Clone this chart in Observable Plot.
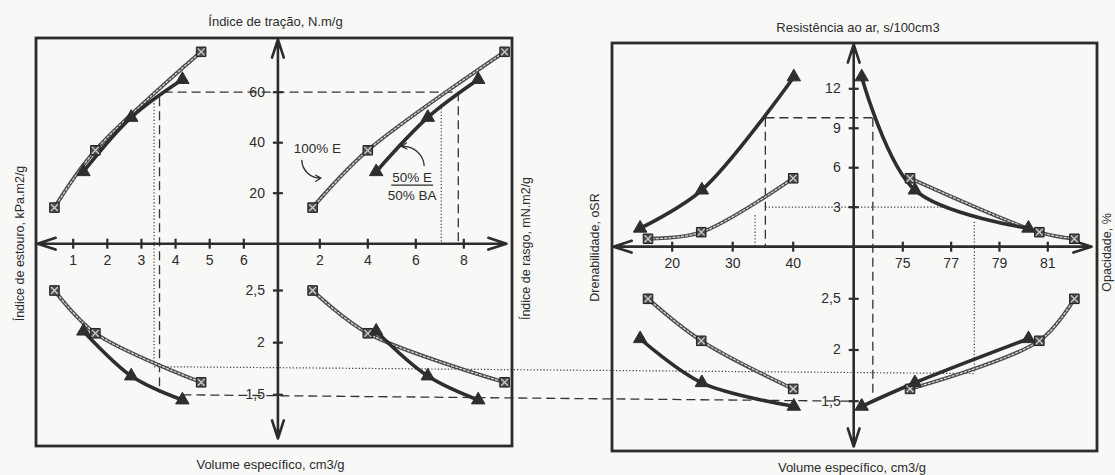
<!DOCTYPE html>
<html>
<head>
<meta charset="utf-8">
<script src="https://cdn.jsdelivr.net/npm/d3@7"></script>
<script src="https://cdn.jsdelivr.net/npm/@observablehq/plot@0.6"></script>
<style>
  html, body { margin: 0; padding: 0; background: #f8f8f7; }
  #chart { width: 1115px; height: 475px; }
</style>
</head>
<body>
<div id="chart"></div>
<script>
// ---------------- DATA ----------------
// Series 1: 100% E  (hatched line, square markers) — three refining levels
const bulkE     = [2.50, 2.09, 1.62];   // Volume específico, cm3/g
const tensileE  = [14.3, 37.0, 76.0];   // Índice de tração, N.m/g
const burstE    = [0.45, 1.65, 4.75];   // Índice de estouro, kPa.m2/g
const tearE     = [1.70, 4.00, 9.70];   // Índice de rasgo, mN.m2/g
const drainE    = [16.0, 24.8, 40.0];   // Drenabilidade, oSR
const airE      = [0.60, 1.10, 5.20];   // Resistência ao ar, s/100cm3
const opacityE  = [82.1, 80.65, 75.3];  // Opacidade, %

// Series 2: 50% E / 50% BA  (thick line, triangle markers)
const bulkB     = [2.11, 1.68, 1.45];
const tensileB  = [28.5, 50.0, 65.0];
const burstB    = [1.30, 2.70, 4.20];
const tearB     = [4.35, 6.50, 8.60];
const drainB    = [14.7, 24.9, 40.1];
const airB      = [1.40, 4.30, 12.9];
const opacityB  = [80.2, 75.5, 73.3];

// Tick values
const burstTicks   = [1, 2, 3, 4, 5, 6];
const tearTicks    = [2, 4, 6, 8];
const tensileTicks = [20, 40, 60];
const bulkTicks    = [2.5, 2, 1.5];
const drainTicks   = [20, 30, 40];
const opacityTicks = [75, 77, 79, 81];
const airTicks     = [12, 9, 6, 3];

// Reading guides (value pairs on the quadrant axes)
const dashedGuides = [
  [["burstL", 3.65, "tensileL", 60],  ["tearL", 7.77, "tensileL", 60]],
  [["burstL", 3.53, "tensileL", 58],  ["burstL", 3.53, "bulkL", 1.52]],
  [["tearL", 7.77, "tensileL", 60],   ["tearL", 7.77, "tensileL", 0]],
  [["burstL", 4.2, "bulkL", 1.5],     ["drainR", 50, "bulkR", 1.5]],
  [["drainR", 35.4, "airR", 9.8],     ["opacityR", 73.76, "airR", 9.8]],
  [["drainR", 35.4, "airR", 9.8],     ["drainR", 35.4, "airR", 0]],
  [["opacityR", 73.76, "airR", 9.8],  ["opacityR", 73.76, "bulkR", 1.56]]
];
const dottedGuides = [
  [["burstL", 3.37, "tensileL", 57],  ["burstL", 3.37, "bulkL", 1.77]],
  [["tearL", 7.06, "tensileL", 55],   ["tearL", 7.06, "tensileL", 0]],
  [["burstL", 3.37, "bulkL", 1.77],   ["opacityR", 77.96, "bulkR", 1.77]],
  [["drainR", 35.4, "airR", 3],       ["opacityR", 76.6, "airR", 3]],
  [["drainR", 33.7, "airR", 2.4],     ["drainR", 33.7, "airR", 0]],
  [["opacityR", 77.96, "airR", 1.9],  ["opacityR", 77.96, "bulkR", 1.77]]
];

// ---------------- LAYOUT: quadrant axis calibration ----------------
const W = 1115, H = 475;
const S = {
  burstL:   d3.scaleLinear([1, 6], [72.7, 243.3]),
  tearL:    d3.scaleLinear([2, 8], [319.3, 463.3]),
  tensileL: d3.scaleLinear([20, 60], [192.7, 91.7]),
  bulkL:    d3.scaleLinear([1.5, 2.5], [394.3, 290]),
  drainR:   d3.scaleLinear([20, 40], [671.7, 792.7]),
  opacityR: d3.scaleLinear([75, 81], [902.3, 1047.3]),
  airR:     d3.scaleLinear([3, 12], [206.7, 88.3]),
  bulkR:    d3.scaleLinear([1.5, 2.5], [400.7, 298.3])
};
const panels = [
  {x0: 36, x1: 512, y0: 38, y1: 446, cx: S.burstL(7), cy: S.tensileL(0),
   top: 39, bottom: 438, left: 37, right: 506},
  {x0: 612, x1: 1097, y0: 43, y1: 451, cx: S.drainR(50), cy: S.airR(0),
   top: 44, bottom: 446, left: 613, right: 1091}
];
const [PL, PR] = panels;

const series = [
  {name: "E", burst: burstE, tear: tearE, tensile: tensileE, bulk: bulkE, drain: drainE, air: airE, opacity: opacityE},
  {name: "B", burst: burstB, tear: tearB, tensile: tensileB, bulk: bulkB, drain: drainB, air: airB, opacity: opacityB}
];
const quads = [
  {xs: "burstL",   ys: "tensileL", xk: "burst",   yk: "tensile"},
  {xs: "tearL",    ys: "tensileL", xk: "tear",    yk: "tensile"},
  {xs: "burstL",   ys: "bulkL",    xk: "burst",   yk: "bulk"},
  {xs: "tearL",    ys: "bulkL",    xk: "tear",    yk: "bulk"},
  {xs: "drainR",   ys: "airR",     xk: "drain",   yk: "air"},
  {xs: "opacityR", ys: "airR",     xk: "opacity", yk: "air"},
  {xs: "drainR",   ys: "bulkR",    xk: "drain",   yk: "bulk"},
  {xs: "opacityR", ys: "bulkR",    xk: "opacity", yk: "bulk"}
];
function rowsFor(s) {
  const out = [];
  quads.forEach((q, qi) => {
    s[q.xk].forEach((v, i) => {
      out.push({q: qi, x: S[q.xs](v), y: S[q.ys](s[q.yk][i])});
    });
  });
  return out;
}
const rowsE = rowsFor(series[0]);
const rowsB = rowsFor(series[1]);

const seg = g => ({x1: S[g[0][0]](g[0][1]), y1: S[g[0][2]](g[0][3]),
                   x2: S[g[1][0]](g[1][1]), y2: S[g[1][2]](g[1][3])});
const dashedSegs = dashedGuides.map(seg);
const dottedSegs = dottedGuides.map(seg);

const axisArrows = panels.flatMap(p => [
  {x1: p.cx, y1: p.cy, x2: p.cx, y2: p.top},
  {x1: p.cx, y1: p.cy, x2: p.cx, y2: p.bottom},
  {x1: p.cx, y1: p.cy, x2: p.left, y2: p.cy},
  {x1: p.cx, y1: p.cy, x2: p.right, y2: p.cy}
]);

const fmt = v => String(v).replace(".", ",");
const hTickData = [
  ...burstTicks.map(v => ({x: S.burstL(v), y: PL.cy, label: fmt(v)})),
  ...tearTicks.map(v => ({x: S.tearL(v), y: PL.cy, label: fmt(v)})),
  ...drainTicks.map(v => ({x: S.drainR(v), y: PR.cy, label: fmt(v)})),
  ...opacityTicks.map(v => ({x: S.opacityR(v), y: PR.cy, label: fmt(v)}))
];
const vTickData = [
  ...tensileTicks.map(v => ({x: PL.cx, y: S.tensileL(v), label: fmt(v)})),
  ...bulkTicks.map(v => ({x: PL.cx, y: S.bulkL(v), label: fmt(v)})),
  ...airTicks.map(v => ({x: PR.cx, y: S.airR(v), label: fmt(v)})),
  ...bulkTicks.map(v => ({x: PR.cx, y: S.bulkR(v), label: fmt(v)}))
];

const ink = "#2c2c2c";
const font = "'Liberation Sans', Arial, sans-serif";

const titles = [
  {x: (PL.x0 + PL.x1) / 2 + 1, y: 21, text: "Índice de tração, N.m/g", rotate: 0},
  {x: (PL.x0 + PL.x1) / 2 - 4, y: 464, text: "Volume específico, cm3/g", rotate: 0},
  {x: 19, y: 243, text: "Índice de estouro, kPa.m2/g", rotate: -90},
  {x: 525, y: 248, text: "Índice de rasgo, mN.m2/g", rotate: -90},
  {x: (PR.x0 + PR.x1) / 2 + 3, y: 27, text: "Resistência ao ar, s/100cm3", rotate: 0},
  {x: (PR.x0 + PR.x1) / 2 - 3, y: 467, text: "Volume específico, cm3/g", rotate: 0},
  {x: 594, y: 247, text: "Drenabilidade, oSR", rotate: -90},
  {x: 1106, y: 252, text: "Opacidade, %", rotate: -90}
];

const notes = [
  {x: S.tearL(1.9), y: S.tensileL(37.5), text: "100% E"},
  {x: S.tearL(5.85), y: S.tensileL(26), text: "50% E"},
  {x: S.tearL(5.85), y: S.tensileL(19), text: "50% BA"}
];
const noteArrows = [
  {x1: S.tearL(1.25), y1: S.tensileL(33), x2: S.tearL(2.05), y2: S.tensileL(26)},
  {x1: S.tearL(6.35), y1: S.tensileL(31), x2: S.tearL(5.4), y2: S.tensileL(38.5)}
];

const chart = Plot.plot({
  width: W, height: H, margin: 0,
  x: {domain: [0, W], range: [0, W], axis: null},
  y: {domain: [0, H], range: [0, H], axis: null},
  style: {background: "#f8f8f7", fontFamily: font, color: ink},
  marks: [
    // reading guides
    Plot.link(dashedSegs, {x1: "x1", y1: "y1", x2: "x2", y2: "y2", stroke: "#333", strokeWidth: 1.3, strokeDasharray: "9,5"}),
    Plot.link(dottedSegs, {x1: "x1", y1: "y1", x2: "x2", y2: "y2", stroke: "#444", strokeWidth: 1.2, strokeDasharray: "1.3,2"}),
    // frames
    Plot.rect(panels, {x1: "x0", x2: "x1", y1: "y0", y2: "y1", fill: "none", stroke: ink, strokeWidth: 2.8}),
    // axes with arrows
    Plot.arrow(axisArrows, {x1: "x1", y1: "y1", x2: "x2", y2: "y2", stroke: ink, strokeWidth: 2.6, headLength: 11, headAngle: 36}),
    // ticks
    Plot.link(hTickData, {x1: "x", x2: "x", y1: d => d.y - 5, y2: d => d.y + 5, stroke: ink, strokeWidth: 2.2}),
    Plot.link(vTickData, {x1: d => d.x - 5, x2: d => d.x + 5, y1: "y", y2: "y", stroke: ink, strokeWidth: 2.2}),
    Plot.text(hTickData, {x: "x", y: d => d.y + 17, text: "label", fontSize: 14, fill: ink, textAnchor: "middle"}),
    Plot.text(vTickData, {x: d => d.x - 13, y: "y", text: "label", fontSize: 14, fill: ink, textAnchor: "end"}),
    // series 100% E : hatched rope line
    Plot.line(rowsE, {x: "x", y: "y", z: "q", curve: "catmull-rom", stroke: "#4a4a4a", strokeWidth: 3.8}),
    Plot.line(rowsE, {x: "x", y: "y", z: "q", curve: "catmull-rom", stroke: "#d6d6d6", strokeWidth: 1.3, strokeDasharray: "2,2.2"}),
    // series 50% E / 50% BA : thick line
    Plot.line(rowsB, {x: "x", y: "y", z: "q", curve: "catmull-rom", stroke: "#2e2e2e", strokeWidth: 3.6}),
    Plot.dot(rowsE, {x: "x", y: "y", symbol: "square", r: 5.4, fill: "#4a4a4a", stroke: "#222", strokeWidth: 1}),
    Plot.dot(rowsE, {x: "x", y: "y", symbol: "times", r: 3.2, stroke: "#cfcfcf", strokeWidth: 1.3}),
    Plot.dot(rowsB, {x: "x", y: "y", symbol: "triangle", r: 5, fill: "#2e2e2e", stroke: "#2e2e2e", strokeWidth: 1}),
    // annotations
    Plot.text(notes, {x: "x", y: "y", text: "text", fontSize: 13.5, fill: ink}),
    Plot.link([notes[1]], {x1: d => d.x - 21, x2: d => d.x + 21, y1: d => d.y + 7, y2: d => d.y + 7, stroke: ink, strokeWidth: 1.2}),
    Plot.arrow(noteArrows, {x1: "x1", y1: "y1", x2: "x2", y2: "y2", bend: -45, stroke: ink, strokeWidth: 1.3, headLength: 7}),
    // titles
    Plot.text(titles.filter(t => !t.rotate), {x: "x", y: "y", text: "text", fontSize: 13, fill: ink}),
    Plot.text(titles.filter(t => t.rotate), {x: "x", y: "y", text: "text", fontSize: 12.5, fill: ink, rotate: -90})
  ]
});
document.getElementById("chart").appendChild(chart);
</script>
</body>
</html>
